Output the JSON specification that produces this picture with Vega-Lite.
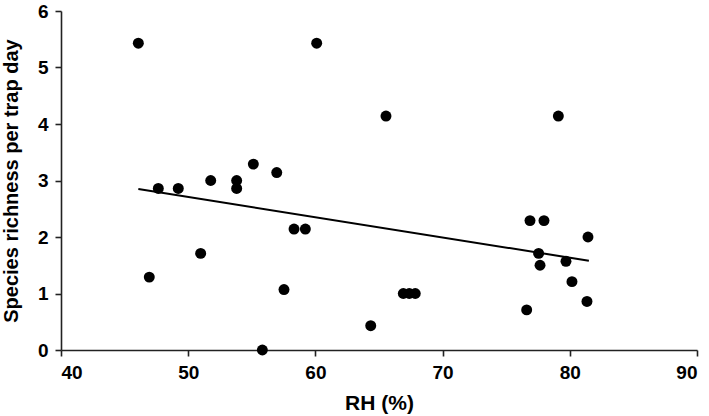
{
  "$schema": "https://vega.github.io/schema/vega-lite/v6.json",
  "width": 636,
  "height": 339,
  "autosize": "none",
  "padding": {"left": 61, "top": 11, "right": 12, "bottom": 66},
  "background": "white",
  "config": {
    "view": {"stroke": null},
    "axis": {
      "labelFont": "Liberation Sans",
      "titleFont": "Liberation Sans",
      "labelFontWeight": "bold",
      "titleFontWeight": "bold",
      "labelFontSize": 19,
      "titleFontSize": 21,
      "labelColor": "#000000",
      "titleColor": "#000000",
      "domainColor": "#222222",
      "tickColor": "#222222",
      "domainWidth": 1.6,
      "tickWidth": 1.6,
      "tickSize": 6,
      "labelPadding": 7,
      "grid": false
    }
  },
  "datasets": {
    "points": [
      {"rh": 46.08, "richness": 5.43},
      {"rh": 60.1, "richness": 5.43},
      {"rh": 47.65, "richness": 2.86},
      {"rh": 49.22, "richness": 2.86},
      {"rh": 51.77, "richness": 3.0},
      {"rh": 53.81, "richness": 3.0},
      {"rh": 53.81, "richness": 2.86},
      {"rh": 55.12, "richness": 3.29},
      {"rh": 56.96, "richness": 3.14},
      {"rh": 65.55, "richness": 4.14},
      {"rh": 79.1, "richness": 4.14},
      {"rh": 46.94, "richness": 1.29},
      {"rh": 50.98, "richness": 1.71},
      {"rh": 57.53, "richness": 1.07},
      {"rh": 58.32, "richness": 2.14},
      {"rh": 59.21, "richness": 2.14},
      {"rh": 55.83, "richness": 0.0},
      {"rh": 64.35, "richness": 0.43},
      {"rh": 66.91, "richness": 1.0},
      {"rh": 67.38, "richness": 1.0},
      {"rh": 67.85, "richness": 1.0},
      {"rh": 76.87, "richness": 2.29},
      {"rh": 77.97, "richness": 2.29},
      {"rh": 81.43, "richness": 2.0},
      {"rh": 77.55, "richness": 1.71},
      {"rh": 77.66, "richness": 1.5},
      {"rh": 79.7, "richness": 1.57},
      {"rh": 80.17, "richness": 1.21},
      {"rh": 76.61, "richness": 0.71},
      {"rh": 81.35, "richness": 0.86}
    ],
    "trend": [
      {"rh": 46.08, "richness": 2.85},
      {"rh": 81.5, "richness": 1.58}
    ]
  },
  "layer": [
    {
      "data": {"name": "trend"},
      "mark": {"type": "line", "color": "#000000", "strokeWidth": 2},
      "encoding": {
        "x": {"field": "rh", "type": "quantitative"},
        "y": {"field": "richness", "type": "quantitative"}
      }
    },
    {
      "data": {"name": "points"},
      "mark": {"type": "circle", "color": "#000000", "opacity": 1, "size": 120},
      "encoding": {
        "x": {
          "field": "rh",
          "type": "quantitative",
          "scale": {"domain": [40, 90], "nice": false, "zero": false},
          "axis": {"title": "RH (%)", "values": [40, 50, 60, 70, 80, 90], "format": "d", "titlePadding": 10}
        },
        "y": {
          "field": "richness",
          "type": "quantitative",
          "scale": {"domain": [0, 6], "nice": false},
          "axis": {"title": "Species richness per trap day", "titleFontSize": 20, "values": [0, 1, 2, 3, 4, 5, 6], "format": "d", "titlePadding": 16}
        }
      }
    }
  ]
}
